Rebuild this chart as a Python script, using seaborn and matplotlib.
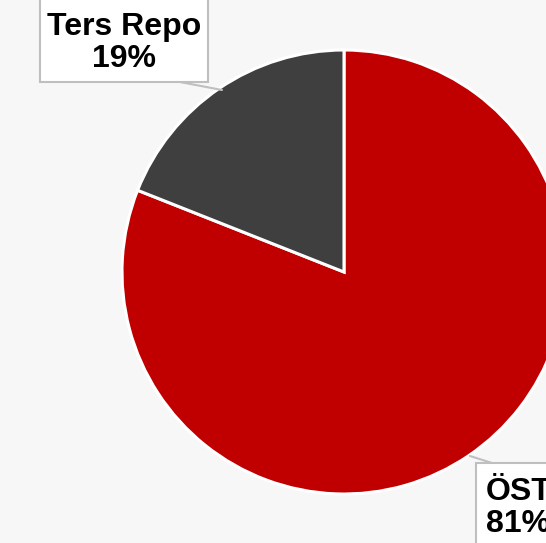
import matplotlib
matplotlib.use("Agg")
import matplotlib.pyplot as plt
from matplotlib.patches import Rectangle
import seaborn as sns

categories = ["ÖST", "Ters Repo"]
shares = [81, 19]
colors = ["#C00000", "#3F3F3F"]

sns.set_style("white")
plt.rcParams["font.family"] = ["Liberation Sans", "DejaVu Sans"]

W, H = 546, 543
fig = plt.figure(figsize=(W / 100, H / 100), dpi=100, facecolor="#F7F7F7")
ax = fig.add_axes([0, 0, 1, 1])
ax.set_facecolor("#F7F7F7")

cx, cy, r = 344, H - 272, 222
ax.pie(shares, colors=colors, startangle=90, counterclock=False,
       center=(cx, cy), radius=r, frame=True,
       wedgeprops=dict(edgecolor="white", linewidth=2.2))
ax.set_xlim(0, W)
ax.set_ylim(0, H)
ax.set_aspect("equal")
ax.axis("off")

# label boxes (pixel coordinates, y from top)
def box(x0, y0, x1, y1):
    ax.add_patch(Rectangle((x0, H - y1), x1 - x0, y1 - y0, facecolor="white",
                           edgecolor="#BFBFBF", linewidth=1.5, zorder=5))

# Ters Repo
ax.plot([180, 222], [H - 82, H - 90], color="#BFBFBF", lw=1.5, zorder=4)
box(40, -5, 208, 82)
ax.text(124, H - 43, f"{categories[1]}\n{shares[1]}%", ha="center", va="center",
        fontsize=23, fontweight="bold", color="black", zorder=6, linespacing=1.12)

# ÖST
ax.plot([470, 492], [H - 456, H - 463], color="#BFBFBF", lw=1.5, zorder=4)
box(476, 463, 600, 600)
ax.text(486, H - 508, f"{categories[0]}\n{shares[0]}%", ha="left", va="center",
        fontsize=23, fontweight="bold", color="black", zorder=6, linespacing=1.12)

fig.savefig("out.png", dpi=100, facecolor=fig.get_facecolor())
